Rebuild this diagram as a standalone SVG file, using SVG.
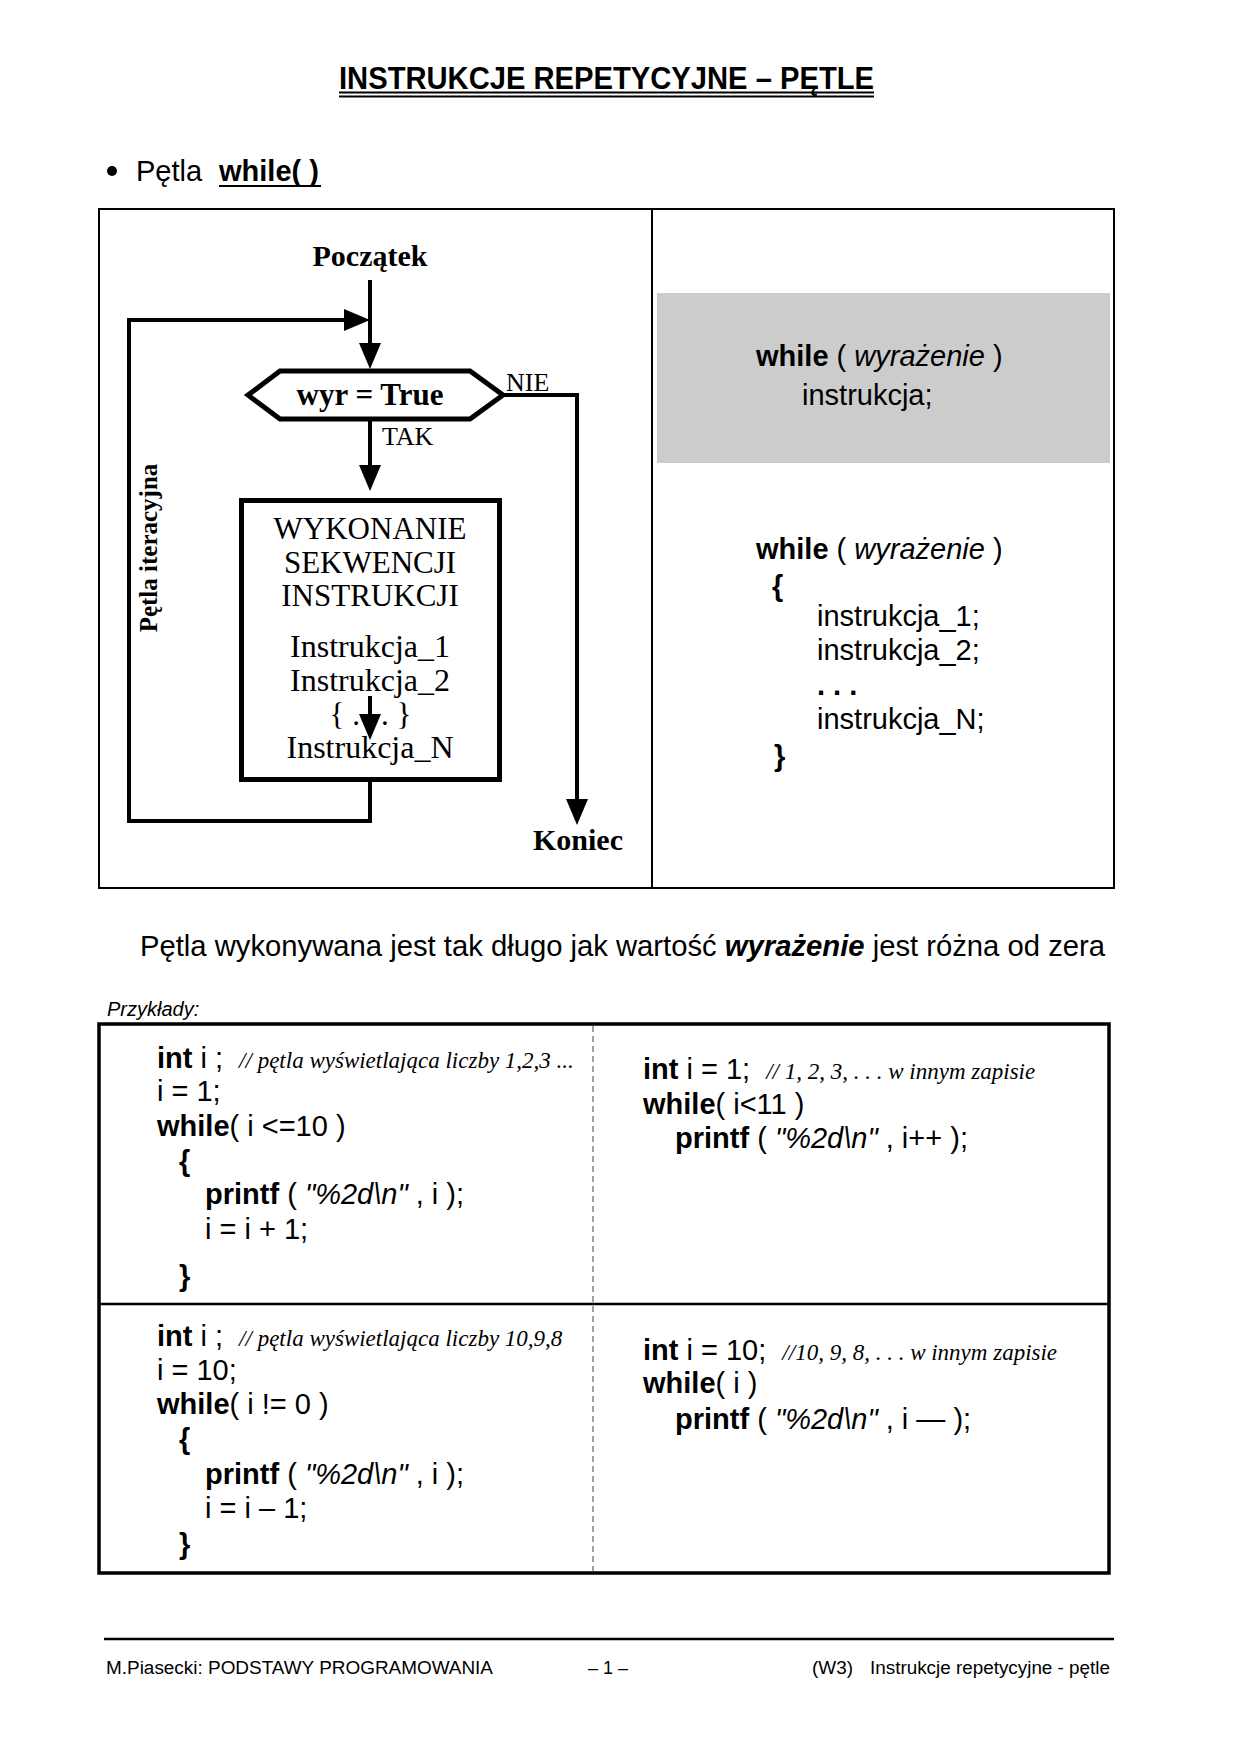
<svg xmlns="http://www.w3.org/2000/svg" width="1240" height="1754" viewBox="0 0 1240 1754">
<style>
.sans{font-family:"Liberation Sans",Arial,sans-serif;fill:#000}
.serif{font-family:"Liberation Serif","Times New Roman",serif;fill:#000}
.b{font-weight:bold}
.i{font-style:italic}
.fc{font-size:30px;text-anchor:middle}
.fc2{font-size:31px;text-anchor:middle}
.code{font-size:29px}
.cmt{font-family:"Liberation Serif","Times New Roman",serif;font-style:italic;font-size:23px}
.conn{fill:none;stroke:#000;stroke-width:4;marker-end:url(#ah)}
</style>
<defs>
<marker id="ah" viewBox="0 0 26 22" refX="14" refY="11" markerWidth="26" markerHeight="22" orient="auto" markerUnits="userSpaceOnUse">
<path d="M0,0 L26,11 L0,22 z" fill="#000"/>
</marker>
</defs>
<rect width="1240" height="1754" fill="#fff"/>

<!-- header -->
<g id="title">
<text x="339" y="89" class="sans b" font-size="32" textLength="535" lengthAdjust="spacingAndGlyphs">INSTRUKCJE REPETYCYJNE – PĘTLE</text>
<line x1="339" y1="92.5" x2="874" y2="92.5" stroke="#000" stroke-width="2"/>
<line x1="339" y1="96.5" x2="874" y2="96.5" stroke="#000" stroke-width="2"/>
</g>
<g id="subtitle">
<circle cx="112" cy="171" r="5" fill="#000"/>
<text x="136" y="181" class="sans" font-size="29">Pętla</text>
<text x="219" y="181" class="sans b" font-size="29">while( )</text>
<line x1="219" y1="186" x2="321" y2="186" stroke="#000" stroke-width="2"/>
</g>

<!-- upper frame -->
<g id="frame">
<rect x="99" y="209" width="1015" height="679" fill="none" stroke="#000" stroke-width="2"/>
<line x1="652" y1="209" x2="652" y2="888" stroke="#000" stroke-width="2"/>
</g>

<!-- flowchart connectors -->
<g id="connectors">
<path class="conn" d="M370,280 V357"/>
<path class="conn" d="M370,782 V821 H129 V320 H358"/>
<path class="conn" d="M503,395 H577 V813"/>
<path class="conn" d="M370,420 V479"/>
<path class="conn" d="M370,696 V728"/>
</g>

<g id="start">
<text x="370" y="266" class="serif b fc">Początek</text>
</g>

<g id="decision">
<polygon points="248,395 280,371 470,371 503,395 470,419 280,419" fill="#fff" stroke="#000" stroke-width="5" stroke-linejoin="miter"/>
<text x="370" y="405" class="serif b fc2">wyr = True</text>
<text x="506" y="391" class="serif" font-size="26">NIE</text>
<text x="382" y="445" class="serif" font-size="26">TAK</text>
</g>

<g id="process">
<rect x="241.5" y="500.5" width="258" height="279" fill="none" stroke="#000" stroke-width="5"/>
<text x="370" y="539" class="serif fc2">WYKONANIE</text>
<text x="370" y="573" class="serif fc2">SEKWENCJI</text>
<text x="370" y="606" class="serif fc2">INSTRUKCJI</text>
<text x="370" y="657" class="serif" font-size="32" text-anchor="middle">Instrukcja_1</text>
<text x="370" y="691" class="serif" font-size="32" text-anchor="middle">Instrukcja_2</text>
<text x="360" y="725" class="serif" font-size="31" text-anchor="end">{ .</text>
<text x="381" y="725" class="serif" font-size="31">. }</text>
<text x="370" y="758" class="serif" font-size="32" text-anchor="middle">Instrukcja_N</text>
</g>

<g id="end">
<text x="578" y="850" class="serif b fc">Koniec</text>
</g>

<g id="loop-label">
<text transform="translate(157,548) rotate(-90)" class="serif b" font-size="25" text-anchor="middle">Pętla iteracyjna</text>
</g>

<!-- syntax panel -->
<g id="syntax-short">
<rect x="657" y="293" width="453" height="170" fill="#cccccc"/>
<text x="756" y="366" class="sans code"><tspan class="b">while</tspan> ( <tspan class="i">wyrażenie</tspan> )</text>
<text x="802" y="405" class="sans code">instrukcja;</text>
</g>
<g id="syntax-block">
<text x="756" y="559" class="sans code"><tspan class="b">while</tspan> ( <tspan class="i">wyrażenie</tspan> )</text>
<text x="772" y="596" class="sans code b">{</text>
<text x="817" y="626" class="sans code">instrukcja_1;</text>
<text x="817" y="660" class="sans code">instrukcja_2;</text>
<text x="817" y="695" class="sans code b">. . .</text>
<text x="817" y="729" class="sans code">instrukcja_N;</text>
<text x="774" y="766" class="sans code b">}</text>
</g>

<g id="note">
<text x="140" y="956" class="sans" font-size="29" textLength="965" lengthAdjust="spacingAndGlyphs">Pętla wykonywana jest tak długo jak wartość <tspan class="b i">wyrażenie</tspan> jest różna od zera</text>
</g>

<!-- examples -->
<g id="examples">
<text x="107" y="1016" class="sans i" font-size="20">Przykłady:</text>
<rect x="99" y="1024" width="1010" height="549" fill="none" stroke="#000" stroke-width="3.5"/>
<line x1="99" y1="1304" x2="1109" y2="1304" stroke="#000" stroke-width="2.5"/>
<line x1="593" y1="1026" x2="593" y2="1571" stroke="#444" stroke-width="1" stroke-dasharray="6,4"/>
</g>

<g id="example-1">
<text x="157" y="1068" class="sans code"><tspan class="b">int</tspan> i ; <tspan class="cmt" dx="8">// pętla wyświetlająca liczby 1,2,3 ...</tspan></text>
<text x="157" y="1101" class="sans code">i = 1;</text>
<text x="157" y="1136" class="sans code"><tspan class="b">while</tspan>( i &lt;=10 )</text>
<text x="179" y="1171" class="sans code b">{</text>
<text x="205" y="1204" class="sans code"><tspan class="b">printf</tspan> ( <tspan class="i">"%2d\n"</tspan> , i );</text>
<text x="205" y="1239" class="sans code">i = i + 1;</text>
<text x="179" y="1286" class="sans code b">}</text>
</g>

<g id="example-2">
<text x="643" y="1079" class="sans code"><tspan class="b">int</tspan> i = 1; <tspan class="cmt" dx="8">// 1, 2, 3, . . . w innym zapisie</tspan></text>
<text x="643" y="1114" class="sans code"><tspan class="b">while</tspan>( i&lt;11 )</text>
<text x="675" y="1148" class="sans code"><tspan class="b">printf</tspan> ( <tspan class="i">"%2d\n"</tspan> , i++ );</text>
</g>

<g id="example-3">
<text x="157" y="1346" class="sans code"><tspan class="b">int</tspan> i ; <tspan class="cmt" dx="8">// pętla wyświetlająca liczby 10,9,8</tspan></text>
<text x="157" y="1380" class="sans code">i = 10;</text>
<text x="157" y="1414" class="sans code"><tspan class="b">while</tspan>( i != 0 )</text>
<text x="179" y="1449" class="sans code b">{</text>
<text x="205" y="1484" class="sans code"><tspan class="b">printf</tspan> ( <tspan class="i">"%2d\n"</tspan> , i );</text>
<text x="205" y="1518" class="sans code">i = i – 1;</text>
<text x="179" y="1554" class="sans code b">}</text>
</g>

<g id="example-4">
<text x="643" y="1360" class="sans code"><tspan class="b">int</tspan> i = 10; <tspan class="cmt" dx="8">//10, 9, 8, . . . w innym zapisie</tspan></text>
<text x="643" y="1393" class="sans code"><tspan class="b">while</tspan>( i )</text>
<text x="675" y="1429" class="sans code"><tspan class="b">printf</tspan> ( <tspan class="i">"%2d\n"</tspan> , i — );</text>
</g>

<!-- footer -->
<g id="footer">
<line x1="104" y1="1639" x2="1114" y2="1639" stroke="#000" stroke-width="2.5"/>
<text x="106" y="1674" class="sans" font-size="18" textLength="387" lengthAdjust="spacingAndGlyphs">M.Piasecki: PODSTAWY PROGRAMOWANIA</text>
<text x="608" y="1674" class="sans" font-size="18" text-anchor="middle">– 1 –</text>
<text x="812" y="1674" class="sans" font-size="18" textLength="41" lengthAdjust="spacingAndGlyphs">(W3)</text>
<text x="870" y="1674" class="sans" font-size="18" textLength="240" lengthAdjust="spacingAndGlyphs">Instrukcje repetycyjne - pętle</text>
</g>
</svg>
